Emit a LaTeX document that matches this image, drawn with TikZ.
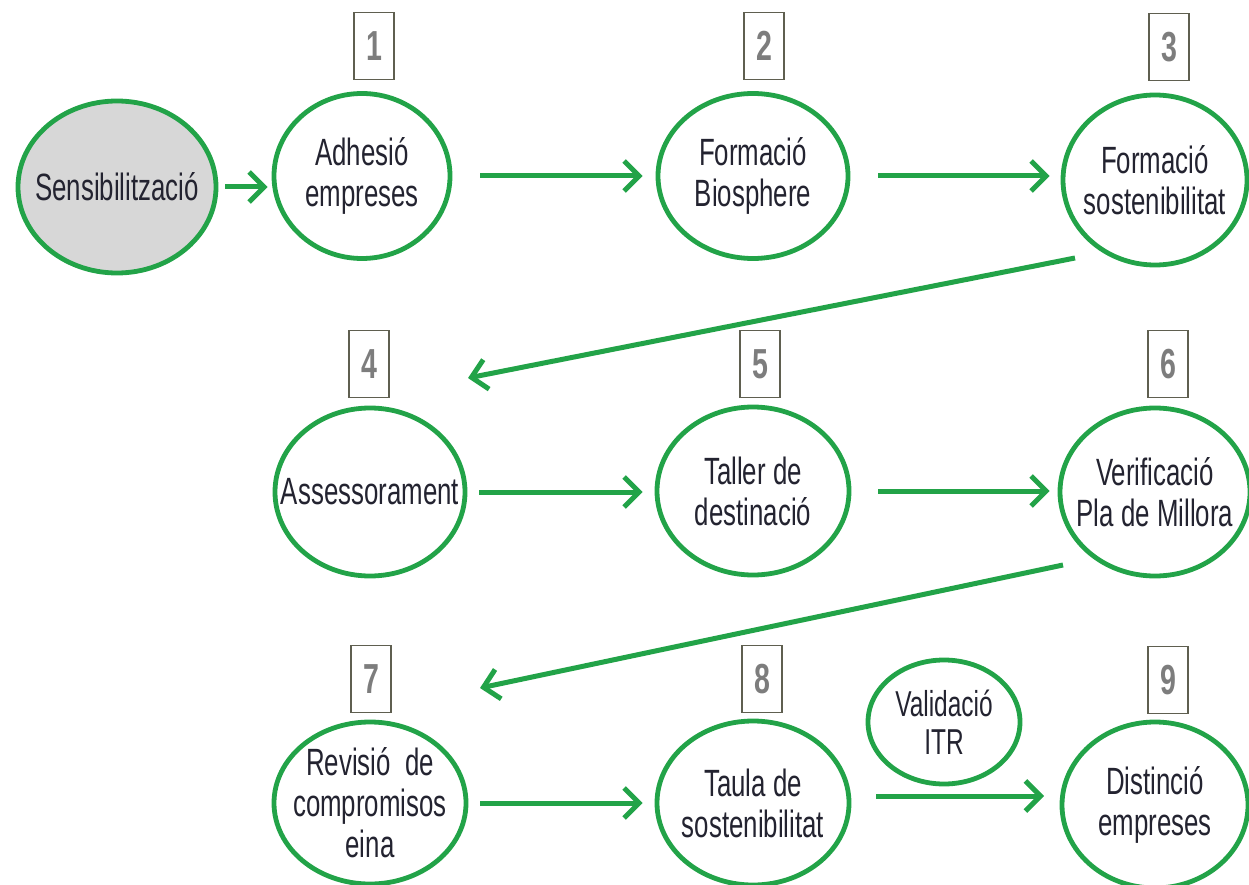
\documentclass[tikz,border=0pt]{standalone}
\usepackage{fontspec}
\setmainfont[FakeStretch=0.68]{Liberation Sans}
\usetikzlibrary{shapes.geometric,arrows.meta}
\definecolor{grn}{RGB}{34,163,72}
\definecolor{txt}{RGB}{35,35,48}
\definecolor{numc}{RGB}{125,125,125}
\definecolor{boxc}{RGB}{95,95,80}
\definecolor{sensfill}{RGB}{215,215,215}
\begin{document}
\begin{tikzpicture}[x=1pt,y=-1pt,
 el/.style={ellipse,draw=grn,line width=4.8pt,inner sep=0pt},
 lbl/.style={inner sep=0pt,align=center,font=\fontsize{38}{41}\selectfont,text=txt},
 numbox/.style={draw=boxc,line width=1.5pt,minimum width=40pt,minimum height=67pt,inner sep=0pt,font=\fontsize{42}{42}\selectfont\bfseries,text=numc},
 arr/.style={draw=grn,line width=5pt,-{Straight Barb[length=15pt,width=30pt,line width=5pt]}}]
\useasboundingbox (0,0) rectangle (1249,885);
% row 1
\node[el,fill=sensfill,minimum width=198pt,minimum height=172pt] (sens) at (117,187) {};
\node[lbl] (senst) at (sens) {Sensibilització};
\node[el,minimum width=176pt,minimum height=165pt] (adh) at (362,176) {};
\node[lbl] (adht) at (adh) {Adhesió\\empreses};
\node[el,minimum width=190pt,minimum height=165pt] (fb) at (753,176) {};
\node[lbl] (fbt) at (fb) {Formació\\Biosphere};
\node[el,minimum width=184pt,minimum height=170pt] (fs) at (1155,180) {};
\node[lbl] (fst) at (fs) {Formació\\sostenibilitat};
\node[numbox] (n1) at (374,46) {1};
\node[numbox] (n2) at (764,46) {2};
\node[numbox] (n3) at (1169,47) {3};
% row 2
\node[el,minimum width=190pt,minimum height=168pt] (ass) at (370,492) {};
\node[lbl] (asst) at (ass) {Assessorament};
\node[el,minimum width=192pt,minimum height=168pt] (tal) at (753,491) {};
\node[lbl] (talt) at (tal) {Taller de\\destinació};
\node[el,minimum width=190pt,minimum height=168pt] (ver) at (1155,492) {};
\node[lbl] (vert) at (ver) {Verificació\\Pla de Millora};
\node[numbox] (n4) at (369,364) {4};
\node[numbox] (n5) at (760,364) {5};
\node[numbox] (n6) at (1168,364) {6};
% row 3
\node[el,minimum width=192pt,minimum height=162pt] (rev) at (370,803) {};
\node[lbl] (revt) at (rev) {Revisió~~de\\compromisos\\eina};
\node[el,minimum width=192pt,minimum height=164pt] (tau) at (753,803) {};
\node[lbl] (taut) at (tau) {Taula de\\sostenibilitat};
\node[el,minimum width=186pt,minimum height=166pt] (dis) at (1155,805) {};
\node[lbl] (dist) at (dis) {Distinció\\empreses};
\node[el,minimum width=152pt,minimum height=124pt] (val) at (944,722) {};
\node[lbl,font=\fontsize{36}{38}\selectfont] (valt) at (val) {Validació\\ITR};
\node[numbox] (n7) at (371,679) {7};
\node[numbox] (n8) at (762,679) {8};
\node[numbox] (n9) at (1168,680) {9};
% arrows
\draw[arr,shorten <=7pt,shorten >=4pt] (sens.east) -- (sens.east -| adh.west);
\draw[arr,shorten <=28pt,shorten >=13pt] (adh.east) -- (adh.east -| fb.west);
\draw[arr,shorten <=28pt,shorten >=11pt] (fb.east) -- (fb.east -| fs.west);
\coordinate (d3) at (1075,258);
\coordinate (d4) at (468,378);
\draw[arr] (d3) -- (d4);
\draw[arr,shorten <=12pt,shorten >=12pt] (ass.east) -- (ass.east -| tal.west);
\draw[arr,shorten <=27pt,shorten >=8pt] (tal.east) -- (tal.east -| ver.west);
\coordinate (d6) at (1063,565);
\coordinate (d7) at (480,688);
\draw[arr] (d6) -- (d7);
\draw[arr,shorten <=12pt,shorten >=12pt] (rev.east) -- (rev.east -| tau.west);
\coordinate (t8) at (849,796);
\coordinate (t9) at (1062,796);
\draw[arr,shorten <=27pt,shorten >=18pt] (t8) -- (t9);
\end{tikzpicture}
\end{document}
